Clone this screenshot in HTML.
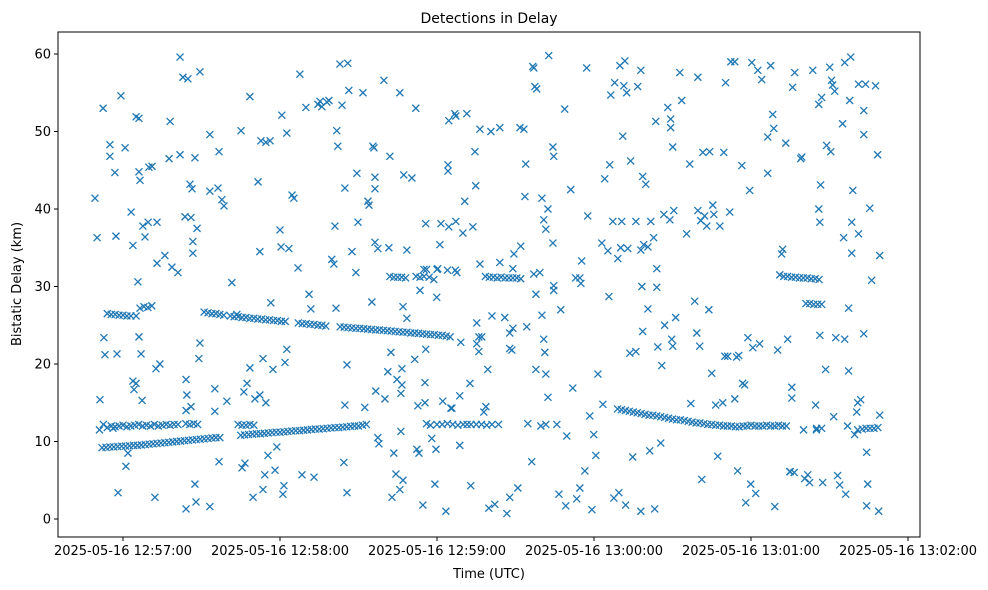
<!DOCTYPE html>
<html><head><meta charset="utf-8"><style>
html,body{margin:0;padding:0;background:#fff;}
svg{display:block;font-family:"DejaVu Sans","Liberation Sans",sans-serif;}
</style></head><body>
<svg id="chart" width="988" height="590" viewBox="0 0 988 590">
<rect x="0" y="0" width="988" height="590" fill="#fff"/>
<text x="489" y="23" text-anchor="middle" font-size="14" fill="#000">Detections in Delay</text>
<g id="plot"></g>
<g id="axes"></g>
<text x="489" y="578" text-anchor="middle" font-size="13" fill="#000">Time (UTC)</text>
<text transform="translate(21,284) rotate(-90)" text-anchor="middle" font-size="13" fill="#000">Bistatic Delay (km)</text>
</svg>
<script>
// seconds after 12:57:00 UTC, delay km
const scatterT=[-10.7,-9.9,-8.8,-7.6,-7.3,-6.9,-5,-3.8,-3.1,-2.7,-2.3,-5,-1.9,-0.8,0.8,1.9,1.1,3.1,3.8,3.8,4.2,5,5,5.7,6.1,6.1,6.1,6.5,6.9,7.3,7.6,8.4,9.6,9.9,11.1,12.2,13,12.6,13,14.1,16,17.6,18,18.7,21,21.8,21.8,22.9,23.7,24.1,24.1,24.4,24.1,24.8,25.6,26,26,26.4,26.7,26.7,27.5,27.5,27.9,28.3,29,29.4,29.4,33.2,33.2,33.2,35.1,35.1,36.3,36.7,36.7,37.8,38.6,39.7,41.6,43.5,45.1,45.5,46.2,46.6,47.4,48.5,48.5,49.7,50.4,51.6,52.3,52.3,52.7,53.5,53.5,54.2,54.6,54.6,55.4,56.2,56.5,57.3,58.1,58.8,60,60.4,60.7,61.1,61.5,61.9,62.6,62.6,63.4,64.6,65.3,66.9,67.6,68.4,69.9,71.1,71.8,73,74.5,75.3,76,77.9,78.7,79.8,80.6,81,81.4,81.7,82.1,82.9,83.7,84.4,84.8,84.8,85.6,85.6,85.9,86.3,87.5,89,89.4,89.8,91.7,92.4,93.6,94,95.1,95.5,95.9,96.3,96.3,96.3,96.6,97.4,97.4,97.8,99.7,100.1,101.2,101.6,102,102.4,102.8,103.5,104.3,104.7,105.8,105.8,106.2,106.2,106.6,106.6,107,107,107.3,108.5,108.5,110.4,111.5,111.9,112.3,112.7,113.1,113.5,114.6,115,115.4,115.4,115.7,115.7,118,118.8,119.2,119.6,119.9,120.3,121.1,121.5,122.2,123.4,124.2,124.2,124.5,124.5,125.3,125.7,126.8,127.2,127.2,127.6,128.7,128.7,129.1,129.9,130.6,131.4,132.6,132.9,133.7,134.5,134.8,135.2,135.2,136,136,136.4,136.4,137.1,137.9,138.7,139.4,139.8,140.6,141,142.1,144,144,145.9,146.7,147.8,147.8,147.8,148.6,149,149,149.4,150.9,151.7,152,153.2,153.6,153.9,154.3,154.7,156.2,156.6,157,157,157.4,157.8,157.8,158.1,159.3,159.7,160.1,160.1,160.8,160.8,161.2,161.6,161.6,161.6,162.4,162.4,162.7,164.3,164.3,164.6,164.6,164.6,165.8,166.6,167.3,168.8,169.2,169.6,171.1,171.9,173,173.4,174.6,174.6,175,175.3,176.5,177.2,177.6,178.4,179.2,179.9,180.7,181.5,183,183.4,184.1,185.3,185.7,186,186.4,187.2,187.6,187.9,189.1,189.5,189.9,190.2,190.6,191,191.4,191.8,192.1,192.5,192.9,193.7,194,194.8,196,196,196.7,197.9,197.9,197.9,198.3,198.6,198.6,199,199.8,200.6,200.6,201.3,201.7,202.8,203.2,203.6,204,204,204.4,205.5,205.9,206.7,207,208.2,209,209.3,209.3,209.7,210.1,210.1,210.5,211.2,212.8,213.5,215.4,216.6,217,218.5,219.3,219.7,219.7,220.4,220.8,221.2,221.6,222.3,223.1,223.9,224.2,225,225.4,225.8,226.5,227.3,228.1,229.2,229.6,230,230.3,231.1,231.9,232.3,233.8,233.8,234.5,234.9,235.3,236.5,236.8,237.6,238,238.8,239.5,239.9,240.3,240.7,241.8,242.6,243.3,244.1,246.4,246.4,247.5,248.3,248.7,249.1,250.2,251.7,252.1,253.3,254,254.8,255.6,255.6,255.9,256.7,259,259.4,260.1,260.5,261.7,262.4,263.6,264.7,265.1,265.9,266.3,265.9,266.3,266.6,267,267.4,268.5,268.9,270.1,270.5,270.8,271.2,271.6,272,272.4,273.1,273.9,275,275.4,275.8,275.8,276.2,276.9,277.3,277.3,277.7,278.1,278.5,278.9,278.5,279.6,280.4,280.8,280.8,281.1,281.1,281.9,283.1,283.1,283.1,283.8,284.2,284.2,284.6,285.4,286.1,287.6,288.4,288.8,289.2,289.2];
const scatterKm=[41.4,36.3,15.4,53,23.4,21.2,48.3,11.7,44.7,36.5,21.3,46.8,3.4,54.6,47.9,8.5,6.8,39.6,35.3,17.8,16.7,51.9,17.5,30.6,51.7,44.8,23.5,43.7,21.3,15.3,37.8,36.4,38.3,45.4,45.5,2.8,38.3,19.4,33,20,34,46.5,51.3,32.5,31.8,59.6,47,57,39,18,14,16,1.3,56.8,43.2,38.9,14.5,42.6,34.3,35.8,46.6,4.5,2.2,37.5,20.7,22.7,57.7,49.6,42.3,1.6,13.9,16.8,42.7,47.4,7.4,41.2,40.4,15.2,30.5,26.4,50.1,6.6,16.4,7.2,17.5,54.5,19.5,2.8,15.5,43.5,34.5,16,48.8,3.8,20.7,5.7,15,48.6,8.2,48.8,27.9,19.3,6.3,9.3,37.3,35.1,52.1,3.2,4.3,20.2,21.9,49.8,34.9,41.8,41.4,32.4,57.4,5.7,53.1,29,27.1,5.4,53.5,53.9,53.2,53.8,54,33.5,32.9,37.8,27.2,50.1,48.1,58.7,53.4,7.3,42.7,14.7,3.4,19.9,58.8,55.3,34.5,31.8,44.6,38.3,55,14.4,41,40.5,28,48.1,47.9,44.1,42.6,35.7,16.5,34.9,10.5,9.7,56.6,15.5,19,35,46.8,21.5,2.8,8.5,5.8,18,55,3.8,11.3,16.2,17.3,19.4,5,27.4,44.4,34.7,25.9,44,20.6,53,9,14.6,8.5,29.5,1.8,32.2,15,17.6,38.1,21.9,10.4,30.9,4.5,9,28.6,32.3,35.4,38.1,15.2,1,45.7,44.9,51.4,37.7,14.3,14.3,52.3,38.4,52,31.8,15.9,9.5,22.8,36.9,41,52.3,17.5,4.3,37.7,47.4,43,25.3,22.6,21.6,23.5,50.3,32.9,23.5,13.8,14.5,19.3,1.4,50,26.2,1.9,50.5,33.1,26,0.7,22,24,2.8,21.8,24.6,32.3,34.2,4,50.5,35.2,50.3,41.6,45.8,24.8,12.3,7.4,58.4,58.2,31.6,55.8,19.3,29,55.5,31.8,12,41.4,26.3,38.6,23.2,21.5,37.4,12.2,18.7,15.7,40,59.8,35.6,48,46.8,29.5,30.1,12.2,3.2,27,52.9,1.7,10.7,42.5,16.9,31.1,2.6,4,31.1,30.4,33.3,6.2,58.2,39.1,13.3,1.2,10.9,8.2,18.7,35.6,14.8,43.9,34.6,28.7,45.7,54.7,38.4,2.7,56.3,33.6,3.4,58.5,35,38.4,49.4,55.9,59.1,1.8,55,34.9,21.4,46.2,8,38.4,21.6,55.8,1,34.7,57.9,30,44.2,24.2,35.4,43.2,35.1,27.1,8.8,38.4,36.3,1.3,51.3,29.9,32.3,22.2,9.8,19.8,39.3,25,53.1,38.6,51.6,50.5,23.2,22.3,48,39.8,26,57.6,54,36.8,45.8,14.9,28.1,24,39.8,57,22.3,38.5,5.1,47.3,39.1,37.8,27,47.4,18.8,40.5,39.3,14.7,8.1,37.8,15,47.3,21,56.3,21,39.6,59,59,15.5,20.9,6.2,21.1,45.6,17.5,17.3,2.1,23.4,42.4,4.5,58.9,22.1,3.3,57.9,22.6,56.7,44.6,49.3,58.5,52.2,50.4,1.6,21.8,34.2,34.8,48.5,23.2,6.1,15.6,17,55.7,57.6,46.5,46.7,11.5,5.2,5.7,4.7,57.9,14.7,11.7,40,38.3,53.5,23.7,43.1,54.4,4.7,19.3,48.2,58.3,47.4,56.6,56,13.2,55.2,23.4,5.6,4.4,51,36.3,58.9,23.2,3.2,12,19.1,27.2,54,59.6,38.3,42.4,34.3,10.9,13.8,11.5,15,36.8,56.1,15.4,49.6,52.7,23.9,56.1,8.6,1.7,4.5,40.1,30.8,55.9,47,1,13.4,34];
const trackT=[-8,-6.5,-5,-3.5,-2,-0.5,1,2.5,4,5.5,7,8.5,10,11.5,13,14.5,16,17.5,19,20.5,22,23.5,25,26.5,28,29.5,31,32.5,34,35.5,37,
-9,-7.5,-6,-4.5,-3,-1.5,0,1.5,3,4.5,6,7.5,9,10.5,12,13.5,15,16.5,18,19.5,21,24,25.5,27,28.5,44,45.5,47,48.5,50,
-6,-4.5,-3,-1.5,0,1.5,3,5,6.5,8,9.5,11,
31,32.5,34,35.5,37,38.5,41,42.5,44,45.5,47,48.5,50,51.5,53,54.5,56,57.5,59,60.5,62,
45,46.5,48,49.5,51,52.5,54,55.5,57,58.5,60,61.5,63,64.5,66,67.5,69,70.5,72,73.5,75,76.5,78,79.5,81,82.5,84,85.5,87,88.5,90,91.5,93,
67,68.5,70,71.5,73,74.5,76,77.5,
83,84.5,86,87.5,89,90.5,92,93.5,95,96.5,98,99.5,101,102.5,104,105.5,107,108.5,110,111.5,113,114.5,116,117.5,119,120.5,122,123.5,125,
102,103.5,105,106.5,108,112,113.5,115,117,116,120,124,127,
116,117.5,120,122,124,126,128,130,131.5,133,135,137,139,141,143.5,
138.5,140,141.5,143,144.5,146,147.5,149,150.5,152,
189,190.5,192,193.5,195,196.5,198,199.5,201,202.5,204,205.5,207,208.5,210,211.5,213,214.5,216,217.5,219,220.5,222,223.5,225,226.5,228,229.5,231,232.5,234,235.5,
237,238.5,240,241.5,243,244.5,246,247.5,249,250.5,252,253.5,
251,252.5,254,255.5,257,258.5,260,261.5,263,264.5,266,
261,262.5,264,265.5,267,
282.5,284,285.5,287,288.5,255,256.5,265,267];
const trackKm=[9.2,9.25,9.3,9.3,9.35,9.4,9.4,9.45,9.5,9.5,9.55,9.6,9.65,9.7,9.75,9.8,9.85,9.9,9.95,10,10.05,10.1,10.15,10.2,10.25,10.3,10.35,10.4,10.45,10.5,10.5,
11.5,12.2,11.8,12,11.9,12,12.1,11.9,12,12.1,12.2,12,12.1,12,12.2,12,12.1,12.2,12.1,12.2,12.2,12.3,12.2,12.3,12.2,12.2,12.1,12.1,12.2,12.1,
26.5,26.4,26.4,26.3,26.3,26.2,26.2,26.2,27.2,27.4,27.3,27.5,
26.7,26.6,26.5,26.5,26.4,26.3,26.2,26.1,26.1,26,26,25.9,25.9,25.8,25.8,25.7,25.7,25.6,25.6,25.5,25.5,
10.8,10.85,10.9,10.95,11,11,11.05,11.1,11.15,11.2,11.2,11.25,11.3,11.35,11.4,11.4,11.45,11.5,11.55,11.6,11.6,11.65,11.7,11.75,11.8,11.8,11.85,11.9,11.95,12,12,12.1,12.2,
25.3,25.2,25.2,25.1,25.1,25,25,24.9,
24.8,24.75,24.7,24.65,24.6,24.6,24.55,24.5,24.45,24.4,24.4,24.35,24.3,24.25,24.2,24.15,24.1,24.1,24,24,23.95,23.9,23.85,23.8,23.8,23.7,23.7,23.6,23.5,
31.3,31.2,31.2,31.2,31.1,31.3,31.2,31.3,31.2,32.2,32.2,32.1,32.1,
12.3,12.1,12.2,12.2,12.3,12.2,12.1,12.2,12.2,12.2,12.2,12.2,12.1,12.2,12.2,
31.3,31.2,31.2,31.1,31.2,31.1,31.1,31.1,31.1,31,
14.2,14.1,14,13.9,13.8,13.7,13.6,13.5,13.4,13.4,13.3,13.2,13.1,13,12.9,12.8,12.8,12.7,12.6,12.5,12.4,12.4,12.3,12.2,12.2,12.1,12.1,12,12,12,11.9,11.9,
12,12,12.1,12,12,12,12.1,12,12,12.1,12,12,
31.5,31.3,31.3,31.2,31.2,31.1,31.1,31.1,31,31,30.9,
27.8,27.8,27.7,27.7,27.7,
11.6,11.7,11.7,11.7,11.8,6.1,6,11.5,11.7];
const yTicks=[0,10,20,30,40,50,60];
const xTickSec=[0,60,120,180,240,300];
const xTickLabels=["2025-05-16 12:57:00","2025-05-16 12:58:00","2025-05-16 12:59:00","2025-05-16 13:00:00","2025-05-16 13:01:00","2025-05-16 13:02:00"];

const L=58,R=920,T=32,B=537;
function xS(t){return 123+t*157/60;}
function yS(v){return 519-v*(465/60);}
const NS="http://www.w3.org/2000/svg";
const plot=document.getElementById('plot');
const axes=document.getElementById('axes');
function mk(tag,attrs,parent){const e=document.createElementNS(NS,tag);for(const k in attrs)e.setAttribute(k,attrs[k]);parent.appendChild(e);return e;}

function marker(t,v,name){
  const cx=xS(t),cy=yS(v),s=3.5;
  const p=mk('path',{d:`M${cx-s},${cy-s}L${cx+s},${cy+s}M${cx-s},${cy+s}L${cx+s},${cy-s}`,stroke:'#1f77b4','stroke-width':1.3,fill:'none'},plot);
  
  
}
for(let i=0;i<scatterT.length;i++){marker(scatterT[i],scatterKm[i],'detection-point');}
for(let i=0;i<trackT.length;i++){marker(trackT[i],trackKm[i],'track-detection-point');}

const frame=mk('rect',{x:L,y:T,width:R-L,height:B-T,fill:'none',stroke:'#000','stroke-width':1},axes);


yTicks.forEach(v=>{
  const y=yS(v);
  const tk=mk('line',{x1:L-4,x2:L,y1:y,y2:y,stroke:'#000','stroke-width':1},axes);
  
  
  const tx=mk('text',{x:L-7,y:y+4.5,'text-anchor':'end','font-size':13,fill:'#000'},axes);
  tx.textContent=v;
  
  
});
xTickSec.forEach((s,i)=>{
  const x=xS(s);
  const tk=mk('line',{x1:x,x2:x,y1:B,y2:B+4,stroke:'#000','stroke-width':1},axes);
  
  
  const tx=mk('text',{x:x,y:B+18,'text-anchor':'middle','font-size':13,fill:'#000'},axes);
  tx.textContent=xTickLabels[i];
  
  
});
</script>
</body></html>
